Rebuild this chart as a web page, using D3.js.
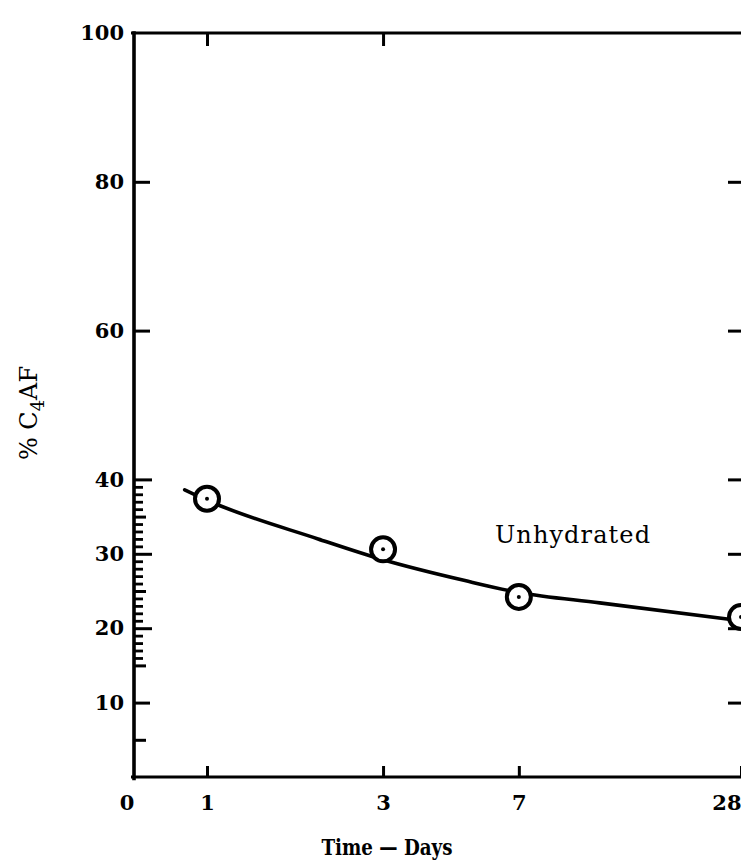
<!DOCTYPE html>
<html>
<head>
<meta charset="utf-8">
<script src="https://cdn.jsdelivr.net/npm/d3@7"></script>
<style>
  html, body { margin: 0; padding: 0; background: #fff; }
  svg { display: block; }
  text { font-family: "DejaVu Serif", "Liberation Serif", serif; fill: #000; }
</style>
</head>
<body>
<svg id="chart" width="741" height="865"></svg>
<script>
// Measured C4AF content (unhydrated) at each curing age
const pointDays = [1, 3, 7, 28];
const pointValues = [37.4, 30.6, 24.2, 21.5];

// Hand-fitted trend curve through the measurements
const curveDays = [0.87, 1, 2, 3, 5, 7, 11.6, 28];
const curveValues = [38.6, 37.2, 32.0, 29.2, 26.4, 24.8, 23.4, 21.0];

// Axis ticks
const xTickDays = [1, 3, 7, 28];
const xTickLabels = ["1", "3", "7", "28"];
const topTickDays = [1, 3];
const originLabel = "0";
const yLongTicks = [20, 30, 40];
const yMidTicks = [10, 60, 80];
const yLabelTicks = [10, 20, 30, 40, 60, 80, 100];
const yFiveTicks = [5, 15, 25, 35];
const yFineTicks = [16, 17, 18, 19, 21, 22, 23, 24, 26, 27, 28, 29, 31, 32, 33, 34, 36, 37, 38, 39];
const rightTicks = [10, 20, 30, 40, 60, 80];

const seriesLabel = "Unhydrated";
const xTitle = "Time \u2014 Days";

const frame = { left: 134, right: 744, top: 33, bottom: 777 };

const x = d3.scaleLog().domain([1, 28]).range([207, 741]);
const y = d3.scaleLinear().domain([0, 100]).range([frame.bottom, frame.top]);

const svg = d3.select("#chart");

function styleAxis(g, width) {
  g.select(".domain").remove();
  g.selectAll(".tick line").attr("stroke", "#000").attr("stroke-width", width);
  g.selectAll(".tick text")
    .style("font-family", '"DejaVu Serif", serif')
    .style("font-weight", "bold")
    .style("font-size", "21px")
    .attr("fill", "#000");
}

// Left axis: labelled values, then graduation marks of several lengths
svg.append("g").attr("transform", `translate(${frame.left},0)`)
  .call(d3.axisLeft(y).tickValues(yLabelTicks).tickSize(0).tickPadding(10).tickFormat(d3.format("d")))
  .call(g => styleAxis(g, 3));
svg.append("g").attr("transform", `translate(${frame.left},0)`)
  .call(d3.axisLeft(y).tickValues(yLongTicks).tickSize(-18).tickFormat(""))
  .call(g => styleAxis(g, 3));
svg.append("g").attr("transform", `translate(${frame.left},0)`)
  .call(d3.axisLeft(y).tickValues(yMidTicks).tickSize(-16).tickFormat(""))
  .call(g => styleAxis(g, 3));
svg.append("g").attr("transform", `translate(${frame.left},0)`)
  .call(d3.axisLeft(y).tickValues(yFiveTicks).tickSize(-12).tickFormat(""))
  .call(g => styleAxis(g, 3));
svg.append("g").attr("transform", `translate(${frame.left},0)`)
  .call(d3.axisLeft(y).tickValues(yFineTicks).tickSize(-9).tickFormat(""))
  .call(g => styleAxis(g, 2.8));

// Right axis marks (inward)
svg.append("g").attr("transform", `translate(${frame.right},0)`)
  .call(d3.axisRight(y).tickValues(rightTicks).tickSize(-16).tickFormat(""))
  .call(g => styleAxis(g, 3));

// Bottom axis
svg.append("g").attr("transform", `translate(0,${frame.bottom})`)
  .call(d3.axisBottom(x).tickValues(xTickDays).tickSize(-11).tickPadding(18)
    .tickFormat((d, i) => xTickLabels[i]))
  .call(g => styleAxis(g, 3))
  .call(g => g.selectAll(".tick text")
    .filter((d, i, n) => i === n.length - 1)
    .attr("text-anchor", "end"));

// Top axis marks
svg.append("g").attr("transform", `translate(0,${frame.top})`)
  .call(d3.axisTop(x).tickValues(topTickDays).tickSize(-13).tickFormat(""))
  .call(g => styleAxis(g, 3));

// Origin label
svg.append("text")
  .attr("x", frame.left - 7).attr("y", frame.bottom + 18).attr("dy", "0.71em")
  .attr("text-anchor", "middle")
  .style("font-weight", "bold").style("font-size", "21px")
  .text(originLabel);

// Frame lines
const frameLines = [
  [frame.left, frame.top, frame.left, frame.bottom + 1.5, 3.6],
  [frame.left - 1.5, frame.bottom, frame.right, frame.bottom, 3],
  [frame.left - 1.5, frame.top, frame.right, frame.top, 3],
  [frame.right, frame.top, frame.right, frame.bottom, 3]
];
svg.append("g").selectAll("line").data(frameLines).join("line")
  .attr("x1", d => d[0]).attr("y1", d => d[1])
  .attr("x2", d => d[2]).attr("y2", d => d[3])
  .attr("stroke", "#000").attr("stroke-width", d => d[4])
  .attr("stroke-linecap", "square");

// Trend curve
const line = d3.line()
  .x(d => x(d[0])).y(d => y(d[1]))
  .curve(d3.curveMonotoneX);
svg.append("path")
  .datum(curveDays.map((d, i) => [d, curveValues[i]]))
  .attr("d", line)
  .attr("fill", "none").attr("stroke", "#000").attr("stroke-width", 3.6)
  .attr("stroke-linecap", "round");

// Measured points: open circle with a centre dot
const pts = svg.append("g").selectAll("g")
  .data(pointDays.map((d, i) => [d, pointValues[i]]))
  .join("g")
  .attr("transform", d => `translate(${x(d[0])},${y(d[1])})`);
pts.append("circle").attr("r", 12)
  .attr("fill", "#fff").attr("stroke", "#000").attr("stroke-width", 4);
pts.append("circle").attr("r", 2).attr("fill", "#000");

// Series label
svg.append("text")
  .attr("x", 495).attr("y", 543)
  .attr("textLength", 155).attr("lengthAdjust", "spacing")
  .style("font-size", "24px")
  .text(seriesLabel);

// X title
svg.append("text")
  .attr("x", 387).attr("y", 855)
  .attr("text-anchor", "middle")
  .attr("textLength", 131).attr("lengthAdjust", "spacingAndGlyphs")
  .style("font-family", '"DejaVu Serif Condensed", "DejaVu Serif", serif')
  .style("font-weight", "bold").style("font-size", "23px")
  .text(xTitle);

// Y title with subscript
const yt = svg.append("text")
  .attr("transform", "translate(37,413) rotate(-90)")
  .attr("text-anchor", "middle")
  .style("font-size", "24px");
yt.append("tspan").text("% C");
yt.append("tspan").attr("dy", 7).style("font-size", "18px").text("4");
yt.append("tspan").attr("dy", -7).text("AF");
</script>
</body>
</html>
